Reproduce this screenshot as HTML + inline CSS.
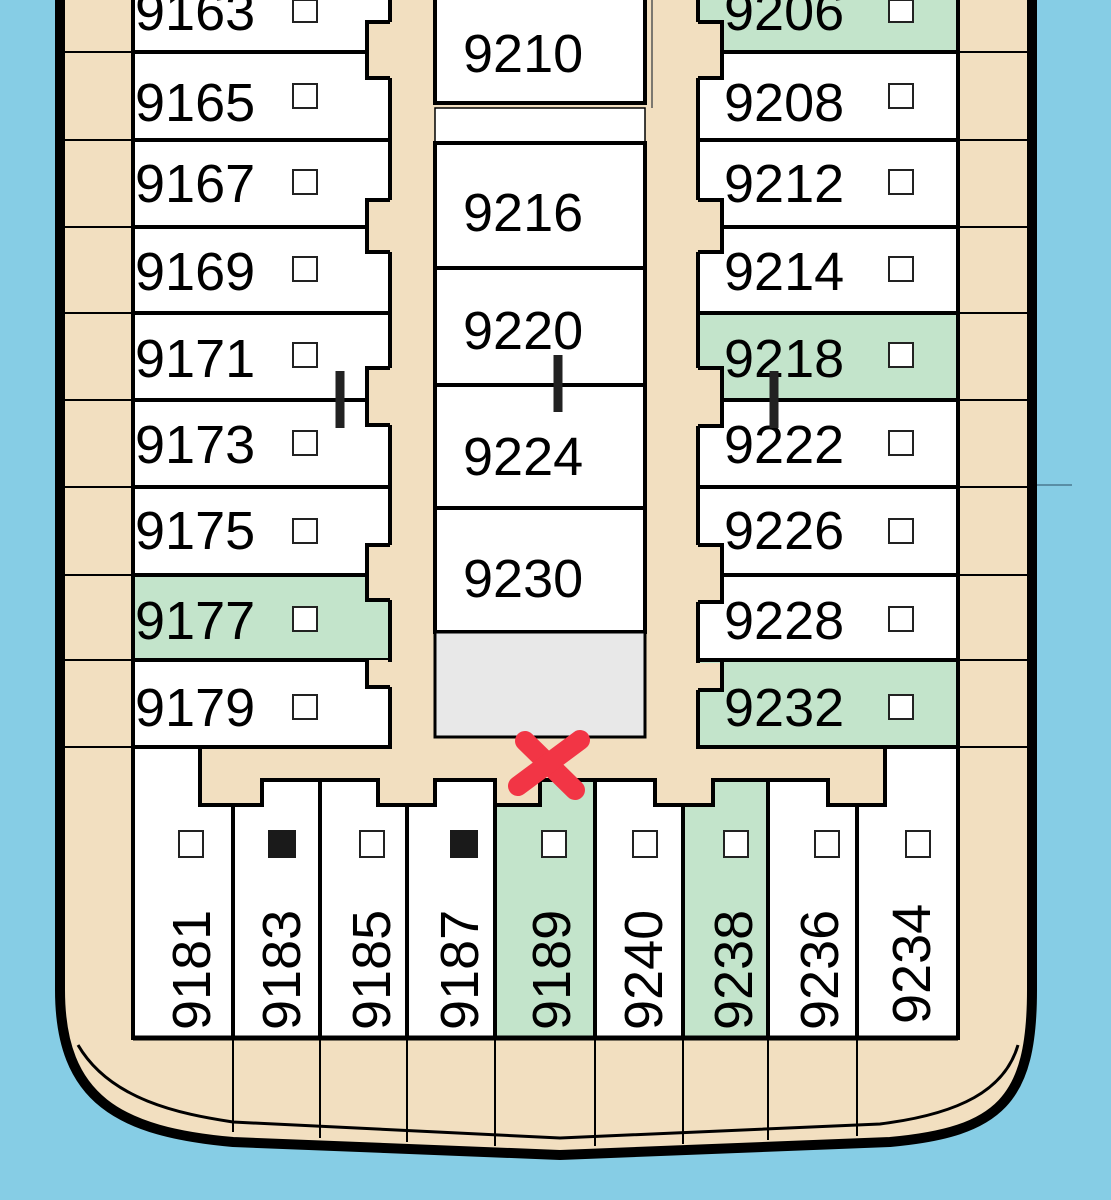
<!DOCTYPE html>
<html><head><meta charset="utf-8"><style>
html,body{margin:0;padding:0;background:#86cde5;}
svg{display:block}
text{font-family:"Liberation Sans",sans-serif;font-size:54px;fill:#000}
</style></head><body>
<svg width="1111" height="1200" viewBox="0 0 1111 1200" xmlns="http://www.w3.org/2000/svg">
<rect width="1111" height="1200" fill="#86cde5"/>
<line x1="1035" y1="485" x2="1072" y2="485" stroke="#4a7a90" stroke-width="1.5"/>
<!-- hull -->
<path d="M60,-10 L60,990 C60,1100 120,1132 233,1142 L560,1155 L890,1142 C1000,1132 1032,1100 1032,990 L1032,-10 Z" fill="#f2dfc0" stroke="#000" stroke-width="10"/>
<path d="M78,1045 C110,1100 180,1114 233,1122 L560,1138 L880,1124 C960,1114 1005,1090 1018,1045" fill="none" stroke="#000" stroke-width="3"/>
<g stroke="#000" stroke-width="2">
<line x1="65" y1="52" x2="133" y2="52"/><line x1="65" y1="140" x2="133" y2="140"/><line x1="65" y1="227" x2="133" y2="227"/><line x1="65" y1="313" x2="133" y2="313"/><line x1="65" y1="400" x2="133" y2="400"/><line x1="65" y1="487" x2="133" y2="487"/><line x1="65" y1="575" x2="133" y2="575"/><line x1="65" y1="660" x2="133" y2="660"/><line x1="65" y1="747" x2="133" y2="747"/>
<line x1="958" y1="52" x2="1027" y2="52"/><line x1="958" y1="140" x2="1027" y2="140"/><line x1="958" y1="227" x2="1027" y2="227"/><line x1="958" y1="313" x2="1027" y2="313"/><line x1="958" y1="400" x2="1027" y2="400"/><line x1="958" y1="487" x2="1027" y2="487"/><line x1="958" y1="575" x2="1027" y2="575"/><line x1="958" y1="660" x2="1027" y2="660"/><line x1="958" y1="747" x2="1027" y2="747"/>
<line x1="233" y1="1038" x2="233" y2="1132"/><line x1="320" y1="1038" x2="320" y2="1138"/><line x1="407" y1="1038" x2="407" y2="1142"/><line x1="495" y1="1038" x2="495" y2="1146"/><line x1="595" y1="1038" x2="595" y2="1146"/><line x1="683" y1="1038" x2="683" y2="1144"/><line x1="768" y1="1038" x2="768" y2="1140"/><line x1="857" y1="1038" x2="857" y2="1136"/>
</g>
<g stroke="#000" stroke-width="4">
<rect x="133" y="-10" width="257" height="62" fill="#fff"/>
<rect x="133" y="52" width="257" height="88" fill="#fff"/>
<rect x="133" y="140" width="257" height="87" fill="#fff"/>
<rect x="133" y="227" width="257" height="86" fill="#fff"/>
<rect x="133" y="313" width="257" height="87" fill="#fff"/>
<rect x="133" y="400" width="257" height="87" fill="#fff"/>
<rect x="133" y="487" width="257" height="88" fill="#fff"/>
<rect x="133" y="575" width="257" height="85" fill="#c3e4cb"/>
<rect x="133" y="660" width="257" height="87" fill="#fff"/>
<rect x="698" y="-10" width="260" height="62" fill="#c3e4cb"/>
<rect x="698" y="52" width="260" height="88" fill="#fff"/>
<rect x="698" y="140" width="260" height="87" fill="#fff"/>
<rect x="698" y="227" width="260" height="86" fill="#fff"/>
<rect x="698" y="313" width="260" height="87" fill="#c3e4cb"/>
<rect x="698" y="400" width="260" height="87" fill="#fff"/>
<rect x="698" y="487" width="260" height="88" fill="#fff"/>
<rect x="698" y="575" width="260" height="85" fill="#fff"/>
<rect x="698" y="660" width="260" height="87" fill="#c3e4cb"/>
</g>
<g fill="#f2dfc0">
<rect x="367" y="22" width="30" height="56"/><rect x="367" y="200" width="30" height="52"/><rect x="367" y="368" width="30" height="57"/><rect x="367" y="545" width="30" height="55"/><rect x="367" y="660" width="30" height="27"/>
<rect x="692" y="22" width="30" height="56"/><rect x="692" y="200" width="30" height="52"/><rect x="692" y="368" width="30" height="58"/><rect x="692" y="545" width="30" height="57"/><rect x="692" y="663" width="30" height="27"/>
</g>
<g fill="none" stroke="#000" stroke-width="4">
<path d="M390,22 H367 V78 H390"/><path d="M390,200 H367 V252 H390"/><path d="M390,368 H367 V425 H390"/><path d="M390,545 H367 V600 H390"/><path d="M390,660 V662 M367,660 V687 H390"/>
<path d="M698,22 H722 V78 H698"/><path d="M698,200 H722 V252 H698"/><path d="M698,368 H722 V426 H698"/><path d="M698,545 H722 V602 H698"/><path d="M722,660 V690 H698"/>
</g>
<g stroke="#000" stroke-width="4">
<rect x="435" y="-10" width="210" height="113" fill="#fff"/>
<rect x="435" y="108" width="210" height="35" fill="#fff" stroke-width="1.5"/>
<rect x="435" y="143" width="210" height="125" fill="#fff"/>
<rect x="435" y="268" width="210" height="117" fill="#fff"/>
<rect x="435" y="385" width="210" height="123" fill="#fff"/>
<rect x="435" y="508" width="210" height="124" fill="#fff"/>
<rect x="435" y="632" width="210" height="105" fill="#e8e8e8" stroke-width="3"/>
</g>
<line x1="652" y1="0" x2="652" y2="108" stroke="#555" stroke-width="1.5"/>
<g stroke="#000" stroke-width="4">
<path d="M133,747 H200 V805 H233 V1038 H133 Z" fill="#fff"/>
<path d="M233,805 H262 V780 H320 V1038 H233 Z" fill="#fff"/>
<path d="M320,780 H378 V805 H407 V1038 H320 Z" fill="#fff"/>
<path d="M407,805 H435 V780 H495 V1038 H407 Z" fill="#fff"/>
<path d="M495,805 H540 V780 H595 V1038 H495 Z" fill="#c3e4cb"/>
<path d="M595,780 H655 V805 H683 V1038 H595 Z" fill="#fff"/>
<path d="M683,805 H713 V780 H768 V1038 H683 Z" fill="#c3e4cb"/>
<path d="M768,780 H828 V805 H857 V1038 H768 Z" fill="#fff"/>
<path d="M857,805 H885 V747 H958 V1038 H857 Z" fill="#fff"/>
</g>
<line x1="133" y1="1038" x2="958" y2="1038" stroke="#000" stroke-width="5"/>
<g>
<text x="135" y="30">9163</text><text x="135" y="121">9165</text><text x="135" y="202">9167</text><text x="135" y="290">9169</text><text x="135" y="377">9171</text><text x="135" y="463">9173</text><text x="135" y="549">9175</text><text x="135" y="639">9177</text><text x="135" y="726">9179</text>
<text x="724" y="30">9206</text><text x="724" y="121">9208</text><text x="724" y="202">9212</text><text x="724" y="290">9214</text><text x="724" y="377">9218</text><text x="724" y="463">9222</text><text x="724" y="549">9226</text><text x="724" y="639">9228</text><text x="724" y="726">9232</text>
<text x="463" y="72">9210</text><text x="463" y="231">9216</text><text x="463" y="349">9220</text><text x="463" y="475">9224</text><text x="463" y="597">9230</text>
</g>
<g fill="#fff" stroke="#222" stroke-width="2">
<rect x="293" y="0" width="24" height="22"/><rect x="293" y="84" width="24" height="24"/><rect x="293" y="170" width="24" height="24"/><rect x="293" y="257" width="24" height="24"/><rect x="293" y="343" width="24" height="24"/><rect x="293" y="431" width="24" height="24"/><rect x="293" y="519" width="24" height="24"/><rect x="293" y="607" width="24" height="24"/><rect x="293" y="695" width="24" height="24"/>
<rect x="889" y="0" width="24" height="22"/><rect x="889" y="84" width="24" height="24"/><rect x="889" y="170" width="24" height="24"/><rect x="889" y="257" width="24" height="24"/><rect x="889" y="343" width="24" height="24"/><rect x="889" y="431" width="24" height="24"/><rect x="889" y="519" width="24" height="24"/><rect x="889" y="607" width="24" height="24"/><rect x="889" y="695" width="24" height="24"/>
<rect x="179" y="831" width="24" height="26"/><rect x="360" y="831" width="24" height="26"/><rect x="542" y="831" width="24" height="26"/><rect x="633" y="831" width="24" height="26"/><rect x="724" y="831" width="24" height="26"/><rect x="815" y="831" width="24" height="26"/><rect x="906" y="831" width="24" height="26"/>
</g>
<rect x="268" y="830" width="28" height="28" fill="#1a1a1a"/><rect x="450" y="830" width="28" height="28" fill="#1a1a1a"/>
<g font-size="54">
<text transform="translate(210,1030) rotate(-90)">9181</text>
<text transform="translate(300,1030) rotate(-90)">9183</text>
<text transform="translate(390,1030) rotate(-90)">9185</text>
<text transform="translate(478,1030) rotate(-90)">9187</text>
<text transform="translate(570,1030) rotate(-90)">9189</text>
<text transform="translate(662,1030) rotate(-90)">9240</text>
<text transform="translate(752,1030) rotate(-90)">9238</text>
<text transform="translate(838,1030) rotate(-90)">9236</text>
<text transform="translate(930,1024) rotate(-90)">9234</text>
</g>
<g stroke="#222" stroke-width="9">
<line x1="340" y1="371" x2="340" y2="428"/><line x1="558" y1="355" x2="558" y2="412"/><line x1="774" y1="371" x2="774" y2="428"/>
</g>
<g stroke="#f23545" stroke-width="20" stroke-linecap="round">
<line x1="525" y1="741" x2="575" y2="790"/><line x1="518" y1="786" x2="580" y2="740"/>
</g>
</svg>
</body></html>
